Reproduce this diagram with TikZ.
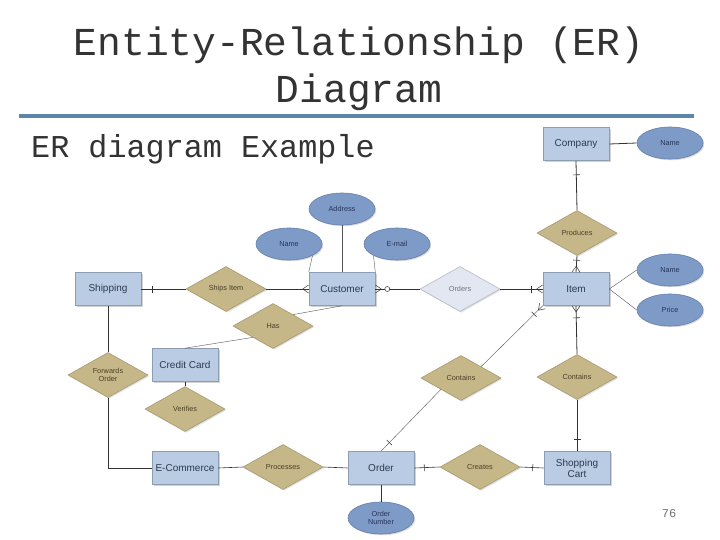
\documentclass[tikz,border=0pt]{standalone}
\usepackage{fontspec}
\setmainfont{Liberation Sans}
\newfontfamily\monofont{Liberation Mono}
\usetikzlibrary{shapes.geometric,shadows,decorations.markings}
\definecolor{entfill}{HTML}{B9CCE4}
\definecolor{entdraw}{HTML}{8D9DB2}
\definecolor{enttext}{HTML}{2E3A4E}
\definecolor{attfill}{HTML}{7E9AC6}
\definecolor{attdraw}{HTML}{6480AC}
\definecolor{atttext}{HTML}{25355A}
\definecolor{relfill}{HTML}{C6B789}
\definecolor{reldraw}{HTML}{A6996C}
\definecolor{reltext}{HTML}{4A4026}
\definecolor{lrelfill}{HTML}{E2E7F1}
\definecolor{lreldraw}{HTML}{B2BACA}
\definecolor{lreltext}{HTML}{6A7384}
\definecolor{rulecol}{HTML}{5D84A9}
\definecolor{linecol}{HTML}{333333}
\definecolor{thincol}{HTML}{555555}
\begin{document}
\begin{tikzpicture}[x=1pt,y=-1pt,
  entity/.style={rectangle, draw=entdraw, fill=entfill, line width=0.6pt,
    minimum width=66pt, minimum height=33pt, inner sep=1pt, align=center,
    text=enttext, font=\fontsize{10}{11}\selectfont,
    drop shadow={shadow xshift=1.5pt, shadow yshift=-1.5pt, opacity=0.35}},
  attr/.style={ellipse, draw=attdraw, fill=attfill, line width=0.6pt,
    minimum width=66pt, minimum height=32pt, inner sep=0pt, align=center,
    text=atttext, font=\fontsize{7.3}{8.3}\selectfont,
    drop shadow={shadow xshift=1.2pt, shadow yshift=-1.2pt, opacity=0.3}},
  rel/.style={diamond, draw=reldraw, fill=relfill, line width=0.6pt,
    minimum width=80pt, minimum height=45pt, inner sep=0pt, align=center,
    text=reltext, font=\fontsize{7.3}{8.3}\selectfont,
    drop shadow={shadow xshift=1.2pt, shadow yshift=-1.2pt, opacity=0.25}},
  lrel/.style={rel, draw=lreldraw, fill=lrelfill, text=lreltext},
  conn/.style={draw=linecol, line width=0.8pt},
  thin/.style={draw=thincol, line width=0.4pt},
  tickat/.style={postaction={decorate, decoration={markings,
    mark=at position #1 with {\draw[linecol, line width=0.6pt] (0,-3.5pt) -- (0,3.5pt);}}}},
  crowend/.style={postaction={decorate, decoration={markings,
    mark=at position 0.999 with {\draw[linecol, line width=0.5pt] (-6pt,0) -- (0,4pt) (-6pt,0) -- (0,-4pt);}}}},
  crowstart/.style={postaction={decorate, decoration={markings,
    mark=at position 0.001 with {\draw[linecol, line width=0.5pt] (6pt,0) -- (0,4pt) (6pt,0) -- (0,-4pt);}}}},
  circat/.style={postaction={decorate, decoration={markings,
    mark=at position #1 with {\draw[linecol, line width=0.5pt, fill=white] (0,0) circle (2.5pt);}}}}
]
\useasboundingbox (0,0) rectangle (720,540);
\fill[white] (0,0) rectangle (720,540);

% Title
\node[anchor=base, inner sep=0pt, text=black!80, font=\monofont\fontsize{39.6}{40}\selectfont] (t1) at (359,56) {Entity-Relationship (ER)};
\node[anchor=base, inner sep=0pt, text=black!80, font=\monofont\fontsize{39.6}{40}\selectfont] (t2) at (359,103) {Diagram};
\draw[rulecol, line width=4pt] (19,116) -- (694,116);
\node[anchor=base west, inner sep=0pt, text=black!80, font=\monofont\fontsize{31.8}{32}\selectfont] (sub) at (31,158) {ER diagram Example};
\node[text=black!55, font=\monofont\fontsize{12}{12}\selectfont] (pg) at (669,514) {76};

% Entities
\node[entity] (company) at (576,144) {Company};
\node[entity] (item) at (576,289) {Item};
\node[entity] (customer) at (342,289) {Customer};
\node[entity] (shipping) at (108,289) {Shipping};
\node[entity] (credit) at (185,365) {Credit Card};
\node[entity] (ecom) at (185,468) {E-Commerce};
\node[entity] (order) at (381,468) {Order};
\node[entity] (cart) at (577,468) {Shopping\\Cart};

% Attributes
\node[attr] (cname) at (670,143) {Name};
\node[attr] (iname) at (670,270) {Name};
\node[attr] (price) at (670,310) {Price};
\node[attr] (address) at (342,209) {Address};
\node[attr] (custname) at (289,244) {Name};
\node[attr] (email) at (397,244) {E-mail};
\node[attr] (ordnum) at (381,518) {Order\\Number};

% Relationships
\node[rel] (produces) at (577,233) {Produces};
\node[lrel] (orders) at (460,289) {Orders};
\node[rel] (shipsitem) at (226,289) {Ships Item};
\node[rel] (has) at (273,326) {Has};
\node[rel] (forwards) at (108,375) {Forwards\\Order};
\node[rel] (verifies) at (185,409) {Verifies};
\node[rel] (processes) at (283,467) {Processes};
\node[rel] (creates) at (480,467) {Creates};
\node[rel] (containsr) at (577,377) {Contains};
\node[rel] (containsm) at (461,378) {Contains};

% Connectors
\draw[conn] (company.east) -- (cname.west);
\draw[conn, tickat=14pt] (company.south) -- (produces.north);
\draw[conn, tickat=-12pt, crowend] (produces.south) -- (item.north);
\draw[thin] (item.east) -- (iname.west);
\draw[thin] (item.east) -- (price.west);
\draw[conn, tickat=-11pt, crowend] (orders.east) -- (item.west);
\draw[conn, crowstart, circat=12pt] (customer.east) -- (orders.west);
\draw[conn, crowend] (shipsitem.east) -- (customer.west);
\draw[conn, tickat=-11pt] (shipsitem.west) -- (shipping.east);
\draw[thin] (customer.north) -- (address.south);
\draw[thin] (custname.south east) -- (customer.north west);
\draw[thin] (email.south west) -- (customer.north east);
\draw[thin] (customer.south) -- (has.north east);
\draw[thin] (has.south west) -- (credit.north);
\draw[conn, line width=0.6pt] (shipping.south) -- (forwards.north);
\coordinate (fcorner) at (108,468);
\draw[conn, line width=0.6pt] (forwards.south) -- (fcorner) -- (ecom.west);
\draw[conn, line width=0.6pt] (credit.south) -- (verifies.north);
\draw[conn, line width=0.6pt] (ecom.east) -- (processes.west);
\draw[conn, line width=0.6pt] (processes.east) -- (order.west);
\draw[conn, line width=0.6pt] (order.south) -- (ordnum.north);
\draw[conn, line width=0.6pt, tickat=10pt] (order.east) -- (creates.west);
\draw[conn, line width=0.6pt, tickat=-11pt] (creates.east) -- (cart.west);
\draw[conn, tickat=-12pt] (containsr.south) -- (cart.north);
\draw[conn, tickat=-12pt, crowend] (containsr.north) -- (item.south);
\draw[thin, tickat=12pt] (order.north) -- (containsm.south west);
\draw[thin, tickat=-12pt, crowend] (containsm.north east) -- (item.south west);
\end{tikzpicture}
\end{document}
